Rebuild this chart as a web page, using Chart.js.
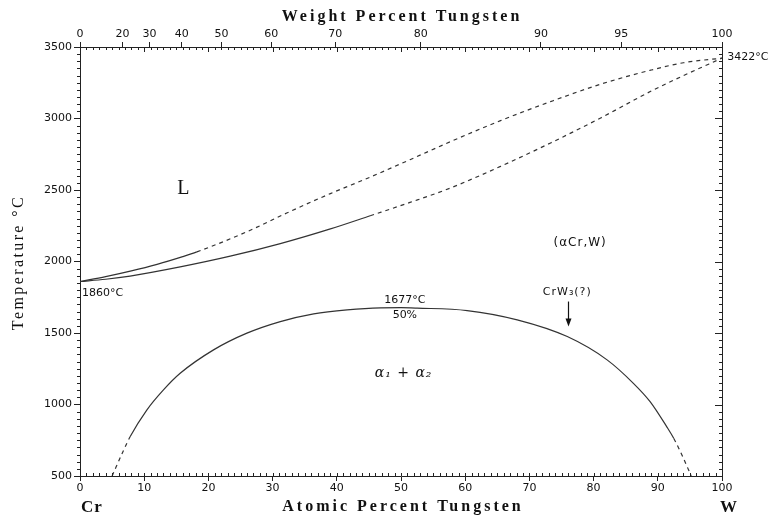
<!DOCTYPE html>
<html>
<head>
<meta charset="utf-8">
<script src="https://cdn.jsdelivr.net/npm/chart.js@4.4.1/dist/chart.umd.min.js"></script>
<style>
  body { margin: 0; background: #fff; }
  canvas { display: block; }
</style>
</head>
<body>
<canvas id="cr-w" width="774" height="520"></canvas>
<script>
// Cr-W phase diagram
const atomicTicks = [0, 10, 20, 30, 40, 50, 60, 70, 80, 90, 100];
const weightTicks = [0, 20, 30, 40, 50, 60, 70, 80, 90, 95, 100];
const tempTicks = [500, 1000, 1500, 2000, 2500, 3000, 3500];

// liquidus (upper curve), solid up to liqSolidTo, dashed after
const liqX = [0, 4, 8, 12, 16, 18.2, 26.0, 32.2, 39.0, 45.2, 51.4, 57.7, 65.5, 73.3, 81.1, 88.9, 94.0, 100];
const liqT = [1860, 1894, 1934, 1980, 2034, 2067, 2208, 2339, 2475, 2590, 2712, 2838, 2985, 3118, 3240, 3338, 3390, 3422];
const liqSolid = [0, 18.2];

// solidus (lower curve)
const solX = [0, 4, 7.8, 15.6, 23.4, 31.2, 39.0, 45.2, 51.4, 57.7, 65.5, 73.3, 81.1, 88.9, 94.0, 100];
const solT = [1860, 1876, 1898, 1962, 2037, 2125, 2228, 2320, 2413, 2514, 2665, 2829, 3004, 3190, 3300, 3422];
const solSolid = [0, 45.2];

// miscibility gap (alpha1 + alpha2), dashed at both ends
const gapX = [5.0, 6.8, 7.8, 10.4, 13.0, 15.6, 20.8, 26.0, 31.2, 36.4, 41.6, 46.8, 50, 52.5, 60.3, 68.1, 75.9, 82.1, 86.2, 88.8, 91.4, 92.5, 94.0, 95.2];
const gapT = [500, 681, 774, 961, 1102, 1218, 1382, 1499, 1580, 1634, 1662, 1676, 1677, 1674, 1657, 1592, 1475, 1312, 1148, 1020, 844, 762, 623, 500];
const gapSolid = [7.8, 92.5];

const axisColor = '#222';
const lineColor = '#333';
const tickFont = { family: '"DejaVu Sans"', size: 11 };

// wt% W -> at% W
function wtToAt(w) {
    const nW = w / 183.84, nCr = (100 - w) / 51.996;
    return 100 * nW / (nW + nCr);
}

function curve(xs, ts, solid) {
    return {
        data: xs.map((x, i) => ({ x: x, y: ts[i] })),
        showLine: true,
        borderColor: lineColor,
        borderWidth: 1.2,
        pointRadius: 0,
        cubicInterpolationMode: 'monotone',
        fill: false,
        segment: {
            borderDash: ctx => (ctx.p0.parsed.x < solid[0] || ctx.p1.parsed.x > solid[1]) ? [4, 4] : undefined
        }
    };
}

// minor ticks on all four sides of the frame
const minorTicks = {
    id: 'minorTicks',
    afterDraw(chart) {
        const { ctx, chartArea: a, scales } = chart;
        ctx.save();
        ctx.strokeStyle = axisColor;
        ctx.lineWidth = 1;
        ctx.beginPath();
        for (let v = 0; v <= 100; v++) {
            const px = Math.round(scales.x.getPixelForValue(v)) + 0.5;
            ctx.moveTo(px, a.bottom); ctx.lineTo(px, a.bottom - 3);
            ctx.moveTo(px, a.top); ctx.lineTo(px, a.top + (v % 10 === 0 ? 5 : 3));
        }
        for (let t = 500; t <= 3500; t += 50) {
            const py = Math.round(scales.y.getPixelForValue(t)) + 0.5;
            const major = t % 500 === 0;
            if (!major) { ctx.moveTo(a.left, py); ctx.lineTo(a.left - 3, py); }
            ctx.moveTo(a.right, py); ctx.lineTo(a.right - (major ? 7 : 3), py);
        }
        ctx.stroke();
        ctx.restore();
    }
};

// labels inside the diagram (positions in at% / degC)
const notes = [
    { text: 'L', x: 16.1, t: 2509, font: '20px "Liberation Serif"', align: 'center' },
    { text: '(\u03b1Cr,W)', x: 77.9, t: 2131, font: '12px "DejaVu Sans"', align: 'center', spacing: '1px' },
    { text: '1860\u00b0C', x: 0.3, t: 1781, font: '11px "DejaVu Sans"', align: 'left' },
    { text: '3422\u00b0C', x: 100.8, t: 3426, font: '11px "DejaVu Sans"', align: 'left' },
    { text: '1677\u00b0C', x: 50.6, t: 1733, font: '11px "DejaVu Sans"', align: 'center' },
    { text: '50%', x: 50.6, t: 1627, font: '11px "DejaVu Sans"', align: 'center' },
    { text: 'CrW\u2083(?)', x: 75.9, t: 1788, font: '11px "DejaVu Sans"', align: 'center', spacing: '1px' },
    { text: '\u03b1\u2081 + \u03b1\u2082', x: 50.4, t: 1221, font: 'italic 14px "DejaVu Serif"', align: 'center', spacing: '1px' }
];

const annotations = {
    id: 'annotations',
    afterDraw(chart) {
        const { ctx, chartArea: a, scales } = chart;
        ctx.save();
        ctx.fillStyle = '#111';
        ctx.strokeStyle = '#111';
        ctx.textBaseline = 'middle';
        notes.forEach(n => {
            ctx.font = n.font;
            ctx.textAlign = n.align;
            ctx.letterSpacing = n.spacing || '0px';
            ctx.fillText(n.text, scales.x.getPixelForValue(n.x), scales.y.getPixelForValue(n.t));
        });

        // arrow pointing at CrW3
        const ax = Math.round(scales.x.getPixelForValue(76)) + 0.5;
        const y1 = scales.y.getPixelForValue(1720), y2 = scales.y.getPixelForValue(1545);
        ctx.lineWidth = 1.2;
        ctx.beginPath(); ctx.moveTo(ax, y1); ctx.lineTo(ax, y2 - 6); ctx.stroke();
        ctx.beginPath(); ctx.moveTo(ax - 3, y2 - 8); ctx.lineTo(ax + 3, y2 - 8); ctx.lineTo(ax, y2); ctx.closePath(); ctx.fill();

        // axis titles
        const cx = (a.left + a.right) / 2;
        ctx.font = 'bold 16px "Liberation Serif"';
        ctx.letterSpacing = '3px';
        ctx.textAlign = 'center';
        ctx.fillText('Weight Percent Tungsten', cx + 1, 17);
        ctx.fillText('Atomic Percent Tungsten', cx + 2, 507);
        ctx.font = 'bold 17px "Liberation Serif"';
        ctx.letterSpacing = '1px';
        ctx.fillText('Cr', 92, 508);
        ctx.fillText('W', 729, 508);

        ctx.font = '16px "Liberation Serif"';
        ctx.letterSpacing = '2.4px';
        ctx.translate(19, (a.top + a.bottom) / 2 + 1);
        ctx.rotate(-Math.PI / 2);
        ctx.fillText('Temperature \u00b0C', 0, 0);
        ctx.restore();
    }
};

new Chart(document.getElementById('cr-w'), {
    type: 'scatter',
    data: {
        datasets: [
            curve(liqX, liqT, liqSolid),
            curve(solX, solT, solSolid),
            curve(gapX, gapT, gapSolid)
        ]
    },
    options: {
        responsive: false,
        animation: false,
        layout: { padding: 0 },
        plugins: { legend: { display: false }, tooltip: { enabled: false } },
        scales: {
            x: {
                type: 'linear', position: 'bottom', min: 0, max: 100,
                afterBuildTicks: s => { s.ticks = atomicTicks.map(v => ({ value: v })); },
                ticks: { font: tickFont, color: '#111', padding: 1, autoSkip: false, maxRotation: 0 },
                grid: { drawOnChartArea: false, tickLength: 5, color: axisColor },
                border: { color: axisColor },
                afterFit: s => { s.height = 44; }
            },
            x2: {
                type: 'linear', position: 'top', min: 0, max: 100,
                afterBuildTicks: s => { s.ticks = weightTicks.map(w => ({ value: wtToAt(w) })); },
                ticks: { font: tickFont, color: '#111', padding: 1, autoSkip: false, maxRotation: 0,
                         callback: (v, i) => weightTicks[i] },
                grid: { drawOnChartArea: false, tickLength: 5, color: axisColor },
                border: { color: axisColor },
                afterFit: s => { s.height = 47; }
            },
            y: {
                type: 'linear', position: 'left', min: 500, max: 3500,
                afterBuildTicks: s => { s.ticks = tempTicks.map(v => ({ value: v })); },
                ticks: { font: tickFont, color: '#111', padding: 2, autoSkip: false,
                         callback: v => String(v) },
                grid: { drawOnChartArea: false, tickLength: 6, color: axisColor },
                border: { color: axisColor },
                afterFit: s => { s.width = 80; }
            },
            y2: {
                type: 'linear', position: 'right', min: 500, max: 3500,
                ticks: { display: false },
                grid: { drawOnChartArea: false, drawTicks: false },
                border: { color: axisColor },
                afterFit: s => { s.width = 52; }
            }
        }
    },
    plugins: [minorTicks, annotations]
});
</script>
</body>
</html>
